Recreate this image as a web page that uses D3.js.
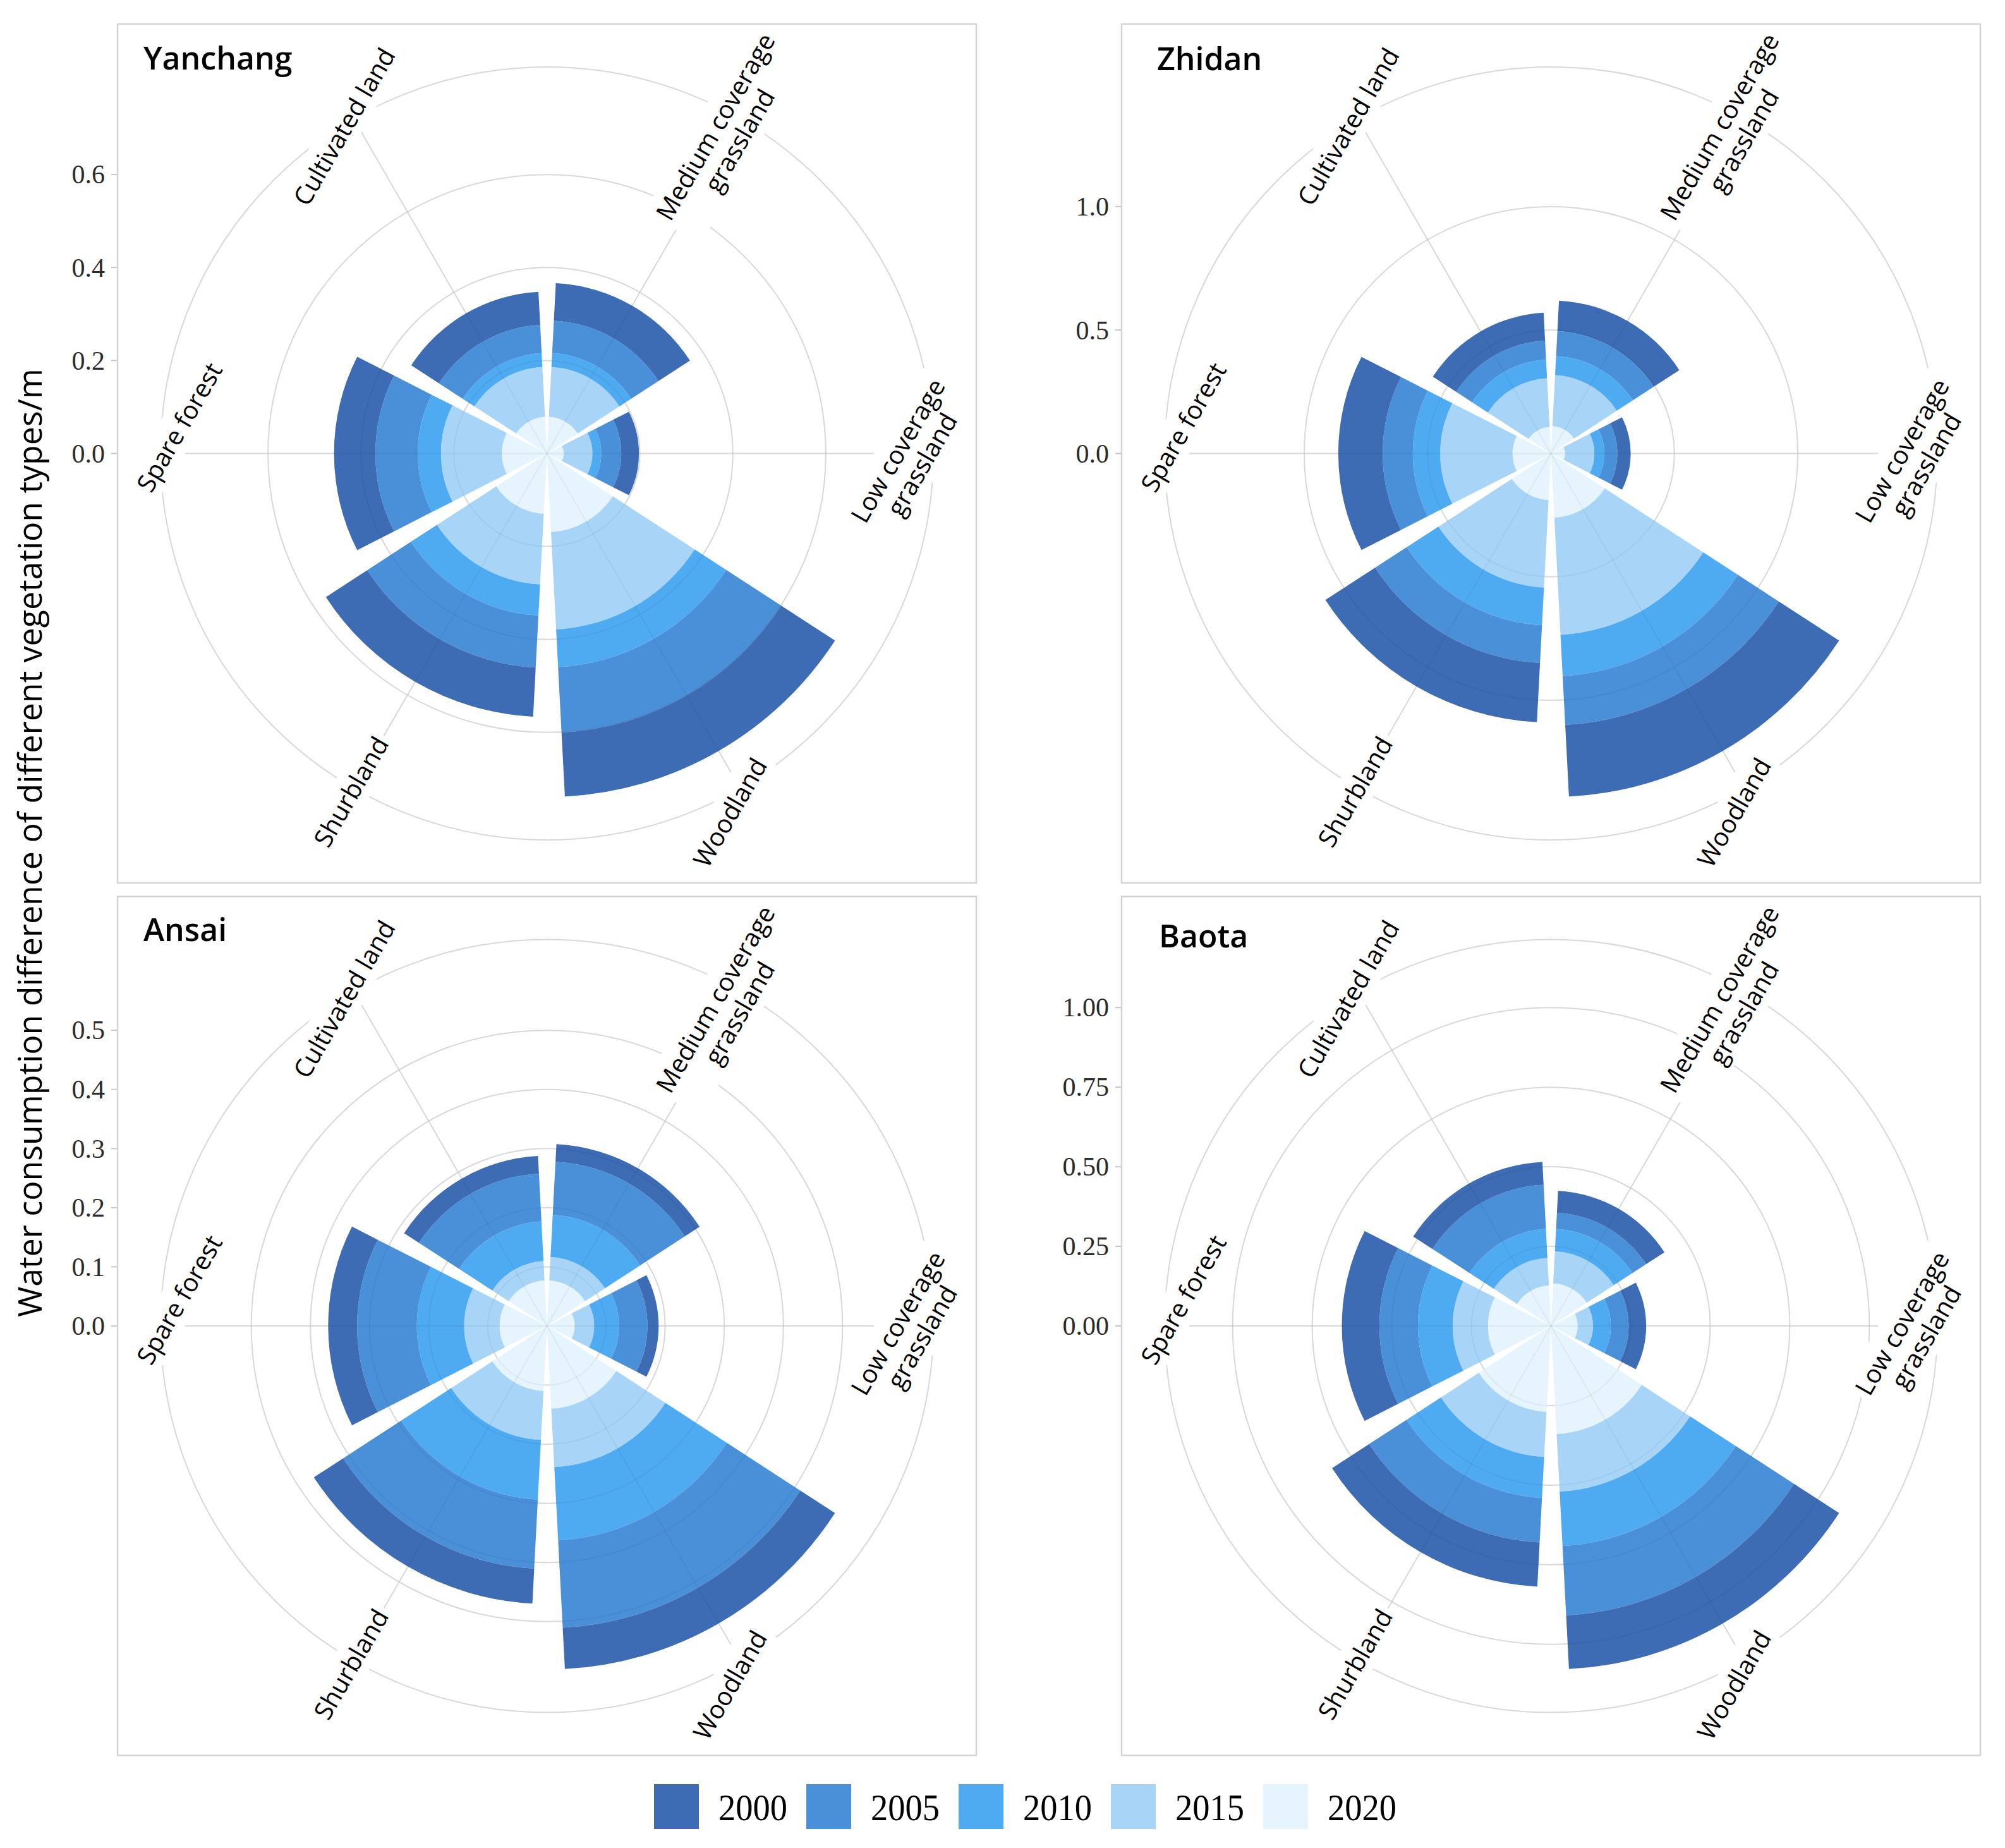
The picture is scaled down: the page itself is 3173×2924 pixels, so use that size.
<!DOCTYPE html>
<html><head><meta charset="utf-8">
<script src="https://cdn.jsdelivr.net/npm/d3@7"></script>
<style>body{margin:0;background:#fff}</style>
</head><body>
<svg id="c" width="3173" height="2924"></svg>
<script>
// ---------------- data ----------------
const years = ["2000", "2005", "2010", "2015", "2020"];
const categories = ["Medium coverage grassland", "Low coverage grassland", "Woodland", "Shurbland", "Spare forest", "Cultivated land"];
const categoryLabels = [["Medium coverage", "grassland"], ["Low coverage", "grassland"], ["Woodland"], ["Shurbland"], ["Spare forest"], ["Cultivated land"]];

// rows follow `years`, columns follow `categories`
const yanchang = [
  [0.081, 0.038, 0.138, 0.106, 0.089, 0.071],
  [0.070, 0.043, 0.141, 0.112, 0.091, 0.061],
  [0.030, 0.019, 0.081, 0.067, 0.050, 0.030],
  [0.107, 0.062, 0.210, 0.152, 0.131, 0.107],
  [0.079, 0.036, 0.169, 0.130, 0.097, 0.079]
];
const zhidan = [
  [0.123, 0.054, 0.291, 0.240, 0.180, 0.113],
  [0.102, 0.053, 0.198, 0.153, 0.122, 0.077],
  [0.077, 0.040, 0.167, 0.153, 0.111, 0.076],
  [0.207, 0.119, 0.476, 0.355, 0.293, 0.197],
  [0.111, 0.057, 0.260, 0.189, 0.156, 0.108]
];
const ansai = [
  [0.030, 0.019, 0.070, 0.059, 0.049, 0.030],
  [0.090, 0.048, 0.148, 0.117, 0.101, 0.081],
  [0.071, 0.042, 0.124, 0.101, 0.080, 0.067],
  [0.040, 0.033, 0.099, 0.083, 0.060, 0.033],
  [0.077, 0.047, 0.140, 0.110, 0.080, 0.077]
];
const baota = [
  [0.069, 0.055, 0.169, 0.139, 0.118, 0.072],
  [0.051, 0.056, 0.218, 0.140, 0.121, 0.139],
  [0.070, 0.056, 0.171, 0.129, 0.109, 0.091],
  [0.101, 0.048, 0.181, 0.142, 0.111, 0.087],
  [0.134, 0.084, 0.340, 0.270, 0.198, 0.127]
];
const yanchangTicks = [0, 0.2, 0.4, 0.6];
const zhidanTicks = [0, 0.5, 1.0];
const ansaiTicks = [0, 0.1, 0.2, 0.3, 0.4, 0.5];
const baotaTicks = [0, 0.25, 0.5, 0.75, 1.0];
const yTitle = "Water consumption difference of different vegetation types/m";

// ---------------- layout ----------------
const W = 3173, H = 2924;
const size = 1359;
const colors = ["#3D6CB4", "#4A90D9", "#4EABF2", "#A8D5F7", "#E6F5FD"];
const color = d3.scaleOrdinal(years, colors);
const sansFont = "'Open Sans', 'Noto Sans', sans-serif";
const serifFont = "'Liberation Serif', 'DejaVu Serif', serif";
// small nudges of category labels from the 0.45 circle
const labelNudge = [[-21, 23], [-38, 6], [-17, 38], [-5, 5], [29, -42], [-16, 12]];

const panels = [
  {name: "Yanchang", data: yanchang, ticks: yanchangTicks, fmt: d3.format(".1f"), left: 186, top: 38, tx: 41, ty: 72},
  {name: "Zhidan", data: zhidan, ticks: zhidanTicks, fmt: d3.format(".1f"), left: 1775, top: 38, tx: 56, ty: 73},
  {name: "Ansai", data: ansai, ticks: ansaiTicks, fmt: d3.format(".1f"), left: 186, top: 1418.5, tx: 41, ty: 70},
  {name: "Baota", data: baota, ticks: baotaTicks, fmt: d3.format(".2f"), left: 1775, top: 1418.5, tx: 59, ty: 80}
];

const svg = d3.select("#c");
svg.append("rect").attr("width", W).attr("height", H).attr("fill", "#fff");

const x = d3.scaleBand().domain(categories).range([0, 2 * Math.PI]).paddingInner(0.1).paddingOuter(0.05);
const mid = c => x(c) + x.bandwidth() / 2;
const outerR = 0.45 * size;

panels.forEach(p => {
  const g = svg.append("g").attr("transform", `translate(${p.left},${p.top})`);
  const rows = categories.map((c, i) => {
    const o = {cat: c};
    years.forEach((y, j) => o[y] = p.data[j][i]);
    return o;
  });
  const stacked = d3.stack().keys(years.slice().reverse())(rows);
  const maxV = d3.max(rows, row => d3.sum(years, y => row[y]));
  const r = d3.scaleLinear().domain([0, maxV]).range([0, 0.4 * size]);

  const pg = g.append("g").attr("transform", `translate(${size / 2},${size / 2})`);
  const gridR = p.ticks.filter(t => t > 0).map(t => r(t)).concat([outerR]);

  function grid(sel, stroke, op) {
    sel.selectAll(null).data(gridR).join("circle")
      .attr("r", d => d).attr("fill", "none").attr("stroke", stroke)
      .attr("stroke-opacity", op).attr("stroke-width", 2);
    sel.selectAll(null).data(categories).join("line")
      .attr("x1", 0).attr("y1", 0)
      .attr("x2", c => outerR * Math.sin(mid(c)))
      .attr("y2", c => -outerR * Math.cos(mid(c)))
      .attr("stroke", stroke).attr("stroke-opacity", op).attr("stroke-width", 2);
  }
  grid(pg.append("g"), "#E4E4E4", 1);

  const arc = d3.arc();
  stacked.forEach(layer => {
    pg.append("g").selectAll("path").data(layer).join("path")
      .attr("d", d => arc({
        innerRadius: r(d[0]), outerRadius: r(d[1]),
        startAngle: x(d.data.cat), endAngle: x(d.data.cat) + x.bandwidth()
      }))
      .attr("fill", color(layer.key));
  });
  grid(pg.append("g"), "#000", 0.05);

  // category labels with white backing
  categories.forEach((c, i) => {
    const a = mid(c);
    const lx = outerR * Math.sin(a) + labelNudge[i][0];
    const ly = -outerR * Math.cos(a) + labelNudge[i][1];
    const lg = pg.append("g").attr("transform", `translate(${lx},${ly}) rotate(-60)`);
    const bg = lg.append("rect").attr("fill", "#fff");
    const t = lg.append("text").attr("text-anchor", "middle")
      .attr("font-family", sansFont).attr("font-size", 40).attr("fill", "#000");
    const lines = categoryLabels[i];
    lines.forEach((ln, k) => {
      t.append("tspan").attr("x", 0).attr("dy", k === 0 ? 0 : 44).text(ln);
    });
    const bb = t.node().getBBox();
    const dy = -(bb.y + bb.height / 2);
    t.attr("transform", `translate(0,${dy})`);
    const pad = 6;
    bg.attr("x", bb.x - pad).attr("y", bb.y + dy - pad + 4)
      .attr("width", bb.width + 2 * pad).attr("height", bb.height + 2 * pad - 8);
  });

  // border
  g.append("rect").attr("x", 0).attr("y", 0).attr("width", size).attr("height", size)
    .attr("fill", "none").attr("stroke", "#D4D4D4").attr("stroke-width", 2.5);

  // title
  g.append("text").attr("x", p.tx).attr("y", p.ty).text(p.name)
    .attr("font-family", sansFont).attr("font-weight", 600).attr("font-size", 50).attr("fill", "#000");

  // radial axis on the left
  const ax = g.append("g");
  p.ticks.forEach(t => {
    const yy = size / 2 - r(t);
    ax.append("line").attr("x1", -10).attr("x2", -1).attr("y1", yy).attr("y2", yy)
      .attr("stroke", "#C8C8C8").attr("stroke-width", 2);
    ax.append("text").attr("x", -20).attr("y", yy).attr("dy", "0.34em")
      .attr("text-anchor", "end").attr("font-family", serifFont).attr("font-size", 42)
      .attr("fill", "#2b2b2b").text(p.fmt(t));
  });
});

// y title
const yt = svg.append("text").attr("transform", "translate(66,1333.5) rotate(-90)")
  .attr("text-anchor", "middle").attr("font-family", sansFont).attr("font-size", 46)
  .attr("fill", "#000").text(yTitle);
const len = yt.node().getComputedTextLength();
yt.attr("font-size", 46 * 1501 / len);

// legend
const lg = svg.append("g");
years.forEach((y, i) => {
  const kx = 1035 + i * 241;
  lg.append("rect").attr("x", kx).attr("y", 2823).attr("width", 71).attr("height", 71)
    .attr("fill", color(y));
  lg.append("text").attr("x", kx + 102).attr("y", 2880).text(y)
    .attr("font-family", serifFont).attr("font-size", 60).attr("fill", "#000")
    .attr("textLength", 109).attr("lengthAdjust", "spacingAndGlyphs");
});
</script>
</body></html>
